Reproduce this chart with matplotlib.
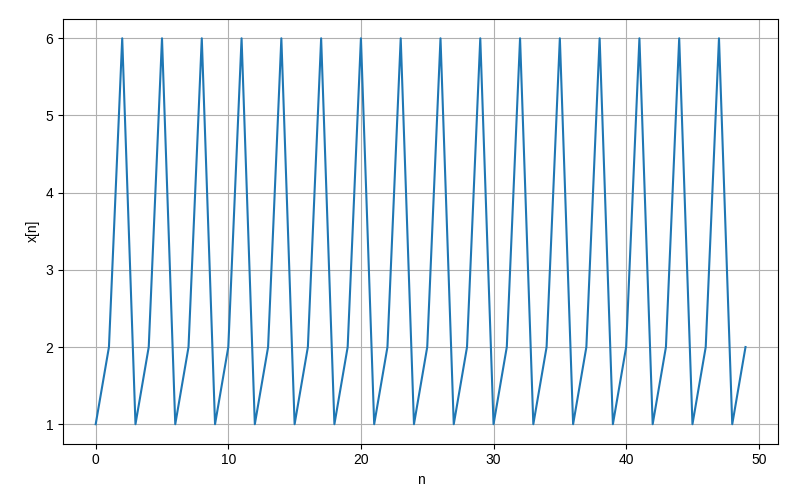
import matplotlib
matplotlib.use("Agg")
import matplotlib.pyplot as plt

plt.rcParams['font.family'] = ['Liberation Sans', 'DejaVu Sans']
plt.rcParams['axes.unicode_minus'] = False

n = list(range(50))
x = [1, 2, 6, 1, 2, 6, 1, 2, 6, 1,
     2, 6, 1, 2, 6, 1, 2, 6, 1, 2,
     6, 1, 2, 6, 1, 2, 6, 1, 2, 6,
     1, 2, 6, 1, 2, 6, 1, 2, 6, 1,
     2, 6, 1, 2, 6, 1, 2, 6, 1, 2]

fig, ax = plt.subplots(figsize=(8, 5), dpi=100)
ax.plot(n, x, color='#1f77b4', linewidth=1.5)
ax.set_xlabel('n')
ax.set_ylabel('x[n]')
ax.grid(True)
fig.subplots_adjust(left=0.079, right=0.9725, top=0.962, bottom=0.113)
fig.savefig('out.png')
